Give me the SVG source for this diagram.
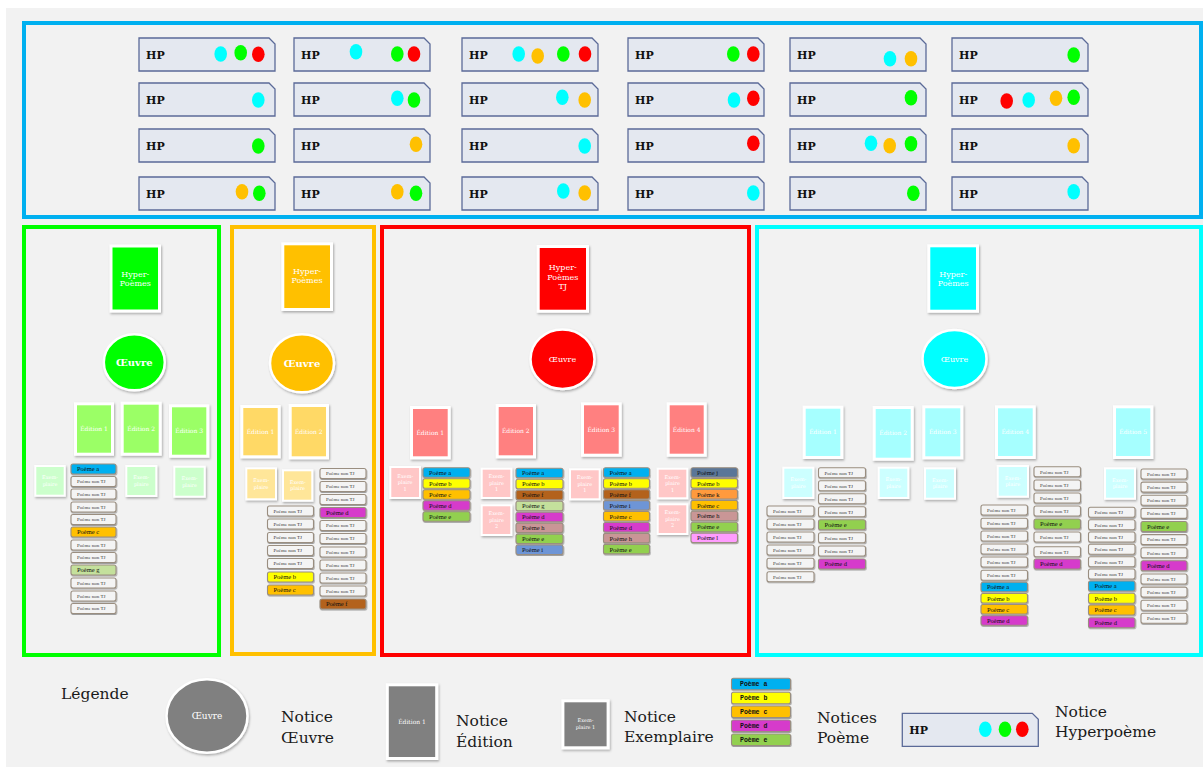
<svg xmlns="http://www.w3.org/2000/svg" width="1203" height="767" viewBox="0 0 1203 767">
<defs>
<filter id="sh" x="-20%" y="-20%" width="150%" height="150%"><feDropShadow dx="1" dy="1.5" stdDeviation="1.2" flood-color="#000" flood-opacity="0.3"/></filter>
<filter id="sh2" x="-10%" y="-30%" width="120%" height="170%"><feDropShadow dx="0.6" dy="1" stdDeviation="0.6" flood-color="#000" flood-opacity="0.35"/></filter>
</defs>
<style>
.hpbox{fill:#e4e8f0;stroke:#5b6a98;stroke-width:1.3}
.hpt{font-family:"DejaVu Serif",serif;font-weight:bold;font-size:11px;fill:#111}
.cy{fill:#00ffff}.gr{fill:#00ff00}.rd{fill:#ff0000}.or{fill:#ffc000}
.card{stroke:#fff;stroke-width:3;filter:url(#sh)}
.ex{stroke:#fff;stroke-width:2;filter:url(#sh)}
.ov{stroke:#fff;stroke-width:2.5;filter:url(#sh)}
.ht{font-family:"DejaVu Serif",serif;font-size:8px;fill:#fff;text-anchor:middle}
.et{font-family:"DejaVu Serif",serif;font-size:6px;fill:#fff;text-anchor:middle}
.xt{font-family:"DejaVu Serif",serif;font-size:5px;fill:#fff;text-anchor:middle}
.ot{font-family:"DejaVu Serif",serif;fill:#fff;text-anchor:middle}
.p{stroke:#9a8e80;stroke-width:1.1;filter:url(#sh2)}
.pa{fill:#00b0f0}.pb{fill:#ffff00}.pc{fill:#ffc000}.pd{fill:#d63bcb}.pe{fill:#92d050}.pf{fill:#b3621e}.pg{fill:#c4e09c}.ph{fill:#c99696}.pi{fill:#6e95d6}.pj{fill:#5a7698}.pk{fill:#ff9a3d}.pl{fill:#ff9cff}.pn{fill:#f4f4f4}
.pt{font-family:"Liberation Serif",serif;font-size:6.5px;fill:#111}
.nt{font-family:"Liberation Serif",serif;font-size:5px;fill:#333}
.lt{font-family:"Liberation Mono",monospace;font-weight:bold;font-size:6.5px;fill:#111}
.lg{font-family:"DejaVu Serif",serif;font-size:15.5px;fill:#1a1a1a}
</style>
<rect x="0" y="0" width="1203" height="767" fill="#ffffff"/>
<rect x="6" y="8" width="1197" height="759" fill="#f2f2f2"/>

<!-- panels -->
<rect id="panel-hp" x="24" y="23" width="1177" height="194" fill="none" stroke="#00b0f0" stroke-width="4"/>
<rect id="panel-green" x="24" y="227" width="195" height="428" fill="none" stroke="#00ff00" stroke-width="4"/>
<rect id="panel-orange" x="232" y="227" width="142" height="427" fill="none" stroke="#ffc000" stroke-width="4"/>
<rect id="panel-red" x="382" y="227" width="367" height="428" fill="none" stroke="#ff0000" stroke-width="4"/>
<rect id="panel-cyan" x="757" y="227" width="444" height="428" fill="none" stroke="#00ffff" stroke-width="4"/>

<g id="connectors"></g>

<!-- HP row 1 -->
<g id="hp-1-1" transform="translate(139,38)"><path class="hpbox" d="M0,0H130L136,6V33H0Z"/><text class="hpt" x="7" y="21">HP</text><ellipse class="cy" cx="81.7" cy="16" rx="6.3" ry="7.7"/><ellipse class="gr" cx="101.7" cy="14.7" rx="6.3" ry="7.7"/><ellipse class="rd" cx="119.3" cy="16.3" rx="6.3" ry="7.7"/></g>
<g id="hp-1-2" transform="translate(294,38)"><path class="hpbox" d="M0,0H130L136,6V33H0Z"/><text class="hpt" x="7" y="21">HP</text><ellipse class="cy" cx="62" cy="13.7" rx="6.3" ry="7.7"/><ellipse class="gr" cx="103.3" cy="16" rx="6.3" ry="7.7"/><ellipse class="rd" cx="120" cy="16" rx="6.3" ry="7.7"/></g>
<g id="hp-1-3" transform="translate(462,38)"><path class="hpbox" d="M0,0H130L136,6V33H0Z"/><text class="hpt" x="7" y="21">HP</text><ellipse class="cy" cx="56.7" cy="16" rx="6.3" ry="7.7"/><ellipse class="or" cx="75.7" cy="18" rx="6.3" ry="7.7"/><ellipse class="gr" cx="101.3" cy="16" rx="6.3" ry="7.7"/><ellipse class="rd" cx="123" cy="16" rx="6.3" ry="7.7"/></g>
<g id="hp-1-4" transform="translate(628,38)"><path class="hpbox" d="M0,0H130L136,6V33H0Z"/><text class="hpt" x="7" y="21">HP</text><ellipse class="gr" cx="105.3" cy="16" rx="6.3" ry="7.7"/><ellipse class="rd" cx="125.3" cy="16" rx="6.3" ry="7.7"/></g>
<g id="hp-1-5" transform="translate(790,38)"><path class="hpbox" d="M0,0H130L136,6V33H0Z"/><text class="hpt" x="7" y="21">HP</text><ellipse class="cy" cx="100" cy="20.7" rx="6.3" ry="7.7"/><ellipse class="or" cx="121" cy="20.7" rx="6.3" ry="7.7"/></g>
<g id="hp-1-6" transform="translate(952,38)"><path class="hpbox" d="M0,0H130L136,6V33H0Z"/><text class="hpt" x="7" y="21">HP</text><ellipse class="gr" cx="121.7" cy="17" rx="6.3" ry="7.7"/></g>
<!-- HP row 2 -->
<g id="hp-2-1" transform="translate(139,83)"><path class="hpbox" d="M0,0H130L136,6V33H0Z"/><text class="hpt" x="7" y="21">HP</text><ellipse class="cy" cx="119.3" cy="17" rx="6.3" ry="7.7"/></g>
<g id="hp-2-2" transform="translate(294,83)"><path class="hpbox" d="M0,0H130L136,6V33H0Z"/><text class="hpt" x="7" y="21">HP</text><ellipse class="cy" cx="103.3" cy="15.3" rx="6.3" ry="7.7"/><ellipse class="gr" cx="120" cy="17" rx="6.3" ry="7.7"/></g>
<g id="hp-2-3" transform="translate(462,83)"><path class="hpbox" d="M0,0H130L136,6V33H0Z"/><text class="hpt" x="7" y="21">HP</text><ellipse class="cy" cx="100.3" cy="14.3" rx="6.3" ry="7.7"/><ellipse class="or" cx="122.7" cy="17" rx="6.3" ry="7.7"/></g>
<g id="hp-2-4" transform="translate(628,83)"><path class="hpbox" d="M0,0H130L136,6V33H0Z"/><text class="hpt" x="7" y="21">HP</text><ellipse class="cy" cx="106" cy="17" rx="6.3" ry="7.7"/><ellipse class="rd" cx="125.3" cy="15.3" rx="6.3" ry="7.7"/></g>
<g id="hp-2-5" transform="translate(790,83)"><path class="hpbox" d="M0,0H130L136,6V33H0Z"/><text class="hpt" x="7" y="21">HP</text><ellipse class="gr" cx="121" cy="14.7" rx="6.3" ry="7.7"/></g>
<g id="hp-2-6" transform="translate(952,83)"><path class="hpbox" d="M0,0H130L136,6V33H0Z"/><text class="hpt" x="7" y="21">HP</text><ellipse class="rd" cx="54.7" cy="18" rx="6.3" ry="7.7"/><ellipse class="cy" cx="76.7" cy="17" rx="6.3" ry="7.7"/><ellipse class="or" cx="104" cy="15.3" rx="6.3" ry="7.7"/><ellipse class="gr" cx="121.7" cy="14.3" rx="6.3" ry="7.7"/></g>
<!-- HP row 3 -->
<g id="hp-3-1" transform="translate(139,129)"><path class="hpbox" d="M0,0H130L136,6V33H0Z"/><text class="hpt" x="7" y="21">HP</text><ellipse class="gr" cx="119.3" cy="17" rx="6.3" ry="7.7"/></g>
<g id="hp-3-2" transform="translate(294,129)"><path class="hpbox" d="M0,0H130L136,6V33H0Z"/><text class="hpt" x="7" y="21">HP</text><ellipse class="or" cx="122" cy="15.3" rx="6.3" ry="7.7"/></g>
<g id="hp-3-3" transform="translate(462,129)"><path class="hpbox" d="M0,0H130L136,6V33H0Z"/><text class="hpt" x="7" y="21">HP</text><ellipse class="cy" cx="122.7" cy="17" rx="6.3" ry="7.7"/></g>
<g id="hp-3-4" transform="translate(628,129)"><path class="hpbox" d="M0,0H130L136,6V33H0Z"/><text class="hpt" x="7" y="21">HP</text><ellipse class="rd" cx="125.3" cy="14.3" rx="6.3" ry="7.7"/></g>
<g id="hp-3-5" transform="translate(790,129)"><path class="hpbox" d="M0,0H130L136,6V33H0Z"/><text class="hpt" x="7" y="21">HP</text><ellipse class="cy" cx="81" cy="14.3" rx="6.3" ry="7.7"/><ellipse class="or" cx="99.7" cy="16.7" rx="6.3" ry="7.7"/><ellipse class="gr" cx="121" cy="14.7" rx="6.3" ry="7.7"/></g>
<g id="hp-3-6" transform="translate(952,129)"><path class="hpbox" d="M0,0H130L136,6V33H0Z"/><text class="hpt" x="7" y="21">HP</text><ellipse class="or" cx="121.7" cy="16.7" rx="6.3" ry="7.7"/></g>
<!-- HP row 4 -->
<g id="hp-4-1" transform="translate(139,177)"><path class="hpbox" d="M0,0H130L136,6V33H0Z"/><text class="hpt" x="7" y="21">HP</text><ellipse class="or" cx="103" cy="14.7" rx="6.3" ry="7.7"/><ellipse class="gr" cx="120.3" cy="16.3" rx="6.3" ry="7.7"/></g>
<g id="hp-4-2" transform="translate(294,177)"><path class="hpbox" d="M0,0H130L136,6V33H0Z"/><text class="hpt" x="7" y="21">HP</text><ellipse class="or" cx="103.3" cy="14.7" rx="6.3" ry="7.7"/><ellipse class="gr" cx="122" cy="16.3" rx="6.3" ry="7.7"/></g>
<g id="hp-4-3" transform="translate(462,177)"><path class="hpbox" d="M0,0H130L136,6V33H0Z"/><text class="hpt" x="7" y="21">HP</text><ellipse class="cy" cx="101.3" cy="14" rx="6.3" ry="7.7"/><ellipse class="or" cx="122.7" cy="16" rx="6.3" ry="7.7"/></g>
<g id="hp-4-4" transform="translate(628,177)"><path class="hpbox" d="M0,0H130L136,6V33H0Z"/><text class="hpt" x="7" y="21">HP</text><ellipse class="cy" cx="125.3" cy="16" rx="6.3" ry="7.7"/></g>
<g id="hp-4-5" transform="translate(790,177)"><path class="hpbox" d="M0,0H130L136,6V33H0Z"/><text class="hpt" x="7" y="21">HP</text><ellipse class="gr" cx="123.3" cy="16.3" rx="6.3" ry="7.7"/></g>
<g id="hp-4-6" transform="translate(952,177)"><path class="hpbox" d="M0,0H130L136,6V33H0Z"/><text class="hpt" x="7" y="21">HP</text><ellipse class="cy" cx="121.7" cy="14.7" rx="6.3" ry="7.7"/></g>

<!-- GREEN -->
<g id="g-hyper"><rect class="card" x="111" y="246" width="48.5" height="65" fill="#00ff00"/><text class="ht" x="135.3" y="277">Hyper-</text><text class="ht" x="135.3" y="285.5">Poèmes</text></g>
<g id="g-oeuvre"><ellipse class="ov" cx="134.3" cy="362.3" rx="30.5" ry="28" fill="#00ff00"/><text class="ot" x="134.3" y="366" font-size="10" font-weight="bold">Œuvre</text></g>
<g id="g-ed1"><rect class="card" x="75.5" y="403.8" width="37" height="50.4" fill="#9bff66"/><text class="et" x="94" y="431">Édition 1</text></g>
<g id="g-ed2"><rect class="card" x="122.2" y="403.2" width="38" height="51" fill="#9bff66"/><text class="et" x="141.2" y="430.5">Édition 2</text></g>
<g id="g-ed3"><rect class="card" x="170.5" y="405.8" width="37.3" height="50.4" fill="#9bff66"/><text class="et" x="189.2" y="433">Édition 3</text></g>
<g id="g-ex1"><rect class="ex" x="35.3" y="466" width="29.4" height="29.7" fill="#ccffcc"/><text class="xt" x="50" y="479">Exem-</text><text class="xt" x="50" y="485.5">plaire</text></g>
<g id="g-ex2"><rect class="ex" x="126.3" y="466" width="30" height="30" fill="#ccffcc"/><text class="xt" x="141.3" y="479">Exem-</text><text class="xt" x="141.3" y="485.5">plaire</text></g>
<g id="g-ex3"><rect class="ex" x="174.3" y="466.7" width="30.4" height="30" fill="#ccffcc"/><text class="xt" x="189.5" y="480">Exem-</text><text class="xt" x="189.5" y="486.5">plaire</text></g>
<g id="g-list">
<rect class="p pa" x="71" y="464" width="45" height="10" rx="2"/><text class="pt" x="77" y="471.3">Poème a</text>
<rect class="p pn" x="71" y="476.5" width="45" height="10" rx="2"/><text class="nt" x="77" y="483.3">Poème non TJ</text>
<rect class="p pn" x="71" y="489" width="45" height="10" rx="2"/><text class="nt" x="77" y="495.8">Poème non TJ</text>
<rect class="p pn" x="71" y="502" width="45" height="10" rx="2"/><text class="nt" x="77" y="508.8">Poème non TJ</text>
<rect class="p pn" x="71" y="514.5" width="45" height="10" rx="2"/><text class="nt" x="77" y="521.3">Poème non TJ</text>
<rect class="p pc" x="71" y="527" width="45" height="10" rx="2"/><text class="pt" x="77" y="534.3">Poème c</text>
<rect class="p pn" x="71" y="540" width="45" height="10" rx="2"/><text class="nt" x="77" y="546.8">Poème non TJ</text>
<rect class="p pn" x="71" y="552.5" width="45" height="10" rx="2"/><text class="nt" x="77" y="559.3">Poème non TJ</text>
<rect class="p pg" x="71" y="565" width="45" height="10" rx="2"/><text class="pt" x="77" y="572.3">Poème g</text>
<rect class="p pn" x="71" y="578" width="45" height="10" rx="2"/><text class="nt" x="77" y="584.8">Poème non TJ</text>
<rect class="p pn" x="71" y="591" width="45" height="10" rx="2"/><text class="nt" x="77" y="597.8">Poème non TJ</text>
<rect class="p pn" x="71" y="603.5" width="45" height="10" rx="2"/><text class="nt" x="77" y="610.3">Poème non TJ</text>
</g>

<!-- ORANGE -->
<g id="o-hyper"><rect class="card" x="282.8" y="243.8" width="48.7" height="65.7" fill="#ffc000"/><text class="ht" x="307" y="274">Hyper-</text><text class="ht" x="307" y="282.5">Poèmes</text></g>
<g id="o-oeuvre"><ellipse class="ov" cx="302" cy="363.3" rx="32" ry="29" fill="#ffc000"/><text class="ot" x="302" y="367" font-size="10" font-weight="bold">Œuvre</text></g>
<g id="o-ed1"><rect class="card" x="241.8" y="406.5" width="37.4" height="50.3" fill="#ffd966"/><text class="et" x="260.5" y="434">Édition 1</text></g>
<g id="o-ed2"><rect class="card" x="290.2" y="405.5" width="37.3" height="52.3" fill="#ffd966"/><text class="et" x="308.8" y="434">Édition 2</text></g>
<g id="o-ex1"><rect class="ex" x="246.3" y="468.3" width="29.7" height="31" fill="#ffe699"/><text class="xt" x="261.2" y="482">Exem-</text><text class="xt" x="261.2" y="488.5">plaire</text></g>
<g id="o-ex2"><rect class="ex" x="283" y="470.3" width="29.3" height="30.4" fill="#ffe699"/><text class="xt" x="297.7" y="483.5">Exem-</text><text class="xt" x="297.7" y="490">plaire</text></g>
<g id="o-list-r">
<rect class="p pn" x="320" y="468.5" width="46" height="10" rx="2"/><text class="nt" x="326" y="475.3">Poème non TJ</text>
<rect class="p pn" x="320" y="481.5" width="46" height="10" rx="2"/><text class="nt" x="326" y="488.3">Poème non TJ</text>
<rect class="p pn" x="320" y="494.5" width="46" height="10" rx="2"/><text class="nt" x="326" y="501.3">Poème non TJ</text>
<rect class="p pd" x="320" y="507.5" width="46" height="10" rx="2"/><text class="pt" x="326" y="514.8">Poème d</text>
<rect class="p pn" x="320" y="520.5" width="46" height="10" rx="2"/><text class="nt" x="326" y="527.3">Poème non TJ</text>
<rect class="p pn" x="320" y="533.5" width="46" height="10" rx="2"/><text class="nt" x="326" y="540.3">Poème non TJ</text>
<rect class="p pn" x="320" y="547" width="46" height="10" rx="2"/><text class="nt" x="326" y="553.8">Poème non TJ</text>
<rect class="p pn" x="320" y="560" width="46" height="10" rx="2"/><text class="nt" x="326" y="566.8">Poème non TJ</text>
<rect class="p pn" x="320" y="573" width="46" height="10" rx="2"/><text class="nt" x="326" y="579.8">Poème non TJ</text>
<rect class="p pn" x="320" y="586" width="46" height="10" rx="2"/><text class="nt" x="326" y="592.8">Poème non TJ</text>
<rect class="p pf" x="320" y="599" width="46" height="10" rx="2"/><text class="pt" x="326" y="606.3">Poème f</text>
</g>
<g id="o-list-l">
<rect class="p pn" x="267.5" y="506" width="46" height="10" rx="2"/><text class="nt" x="273.5" y="512.8">Poème non TJ</text>
<rect class="p pn" x="267.5" y="519" width="46" height="10" rx="2"/><text class="nt" x="273.5" y="525.8">Poème non TJ</text>
<rect class="p pn" x="267.5" y="532.5" width="46" height="10" rx="2"/><text class="nt" x="273.5" y="539.3">Poème non TJ</text>
<rect class="p pn" x="267.5" y="545.5" width="46" height="10" rx="2"/><text class="nt" x="273.5" y="552.3">Poème non TJ</text>
<rect class="p pn" x="267.5" y="558.5" width="46" height="10" rx="2"/><text class="nt" x="273.5" y="565.3">Poème non TJ</text>
<rect class="p pb" x="267.5" y="572" width="46" height="10" rx="2"/><text class="pt" x="273.5" y="579.3">Poème b</text>
<rect class="p pc" x="267.5" y="585" width="46" height="10" rx="2"/><text class="pt" x="273.5" y="592.3">Poème c</text>
</g>

<!-- RED -->
<g id="r-hyper"><rect class="card" x="538.2" y="246.5" width="49.3" height="64.7" fill="#ff0000"/><text class="ht" x="562.8" y="270">Hyper-</text><text class="ht" x="562.8" y="279.5">Poèmes</text><text class="ht" x="562.8" y="289">TJ</text></g>
<g id="r-oeuvre"><ellipse class="ov" cx="562.5" cy="359.2" rx="32" ry="29.8" fill="#ff0000"/><text class="ot" x="562.5" y="362" font-size="8">Œuvre</text></g>
<g id="r-ed1"><rect class="card" x="411.5" y="407.5" width="37.7" height="50.3" fill="#ff8080"/><text class="et" x="430.3" y="434.7">Édition 1</text></g>
<g id="r-ed2"><rect class="card" x="497.2" y="405.5" width="37.3" height="51.3" fill="#ff8080"/><text class="et" x="515.8" y="433.2">Édition 2</text></g>
<g id="r-ed3"><rect class="card" x="582.5" y="403.8" width="37.7" height="51.4" fill="#ff8080"/><text class="et" x="601.3" y="431.5">Édition 3</text></g>
<g id="r-ed4"><rect class="card" x="668.2" y="403.8" width="37" height="51.4" fill="#ff8080"/><text class="et" x="686.7" y="431.5">Édition 4</text></g>
<g id="r-ed1-ex1"><rect class="ex" x="390.3" y="467" width="29.7" height="31" fill="#ffc7c7"/><text class="xt" x="405.2" y="477.5">Exem-</text><text class="xt" x="405.2" y="484">plaire</text><text class="xt" x="405.2" y="490.5">1</text></g>
<g id="r-ed2-ex1"><rect class="ex" x="481.7" y="468.7" width="29.6" height="29.3" fill="#ffc7c7"/><text class="xt" x="496.5" y="478.3">Exem-</text><text class="xt" x="496.5" y="484.8">plaire</text><text class="xt" x="496.5" y="491.3">1</text></g>
<g id="r-ed2-ex2"><rect class="ex" x="481.7" y="505.3" width="29.6" height="29.7" fill="#ffc7c7"/><text class="xt" x="496.5" y="515.2">Exem-</text><text class="xt" x="496.5" y="521.7">plaire</text><text class="xt" x="496.5" y="528.2">2</text></g>
<g id="r-ed3-ex1"><rect class="ex" x="570" y="469.3" width="29.7" height="30" fill="#ffc7c7"/><text class="xt" x="584.8" y="479.3">Exem-</text><text class="xt" x="584.8" y="485.8">plaire</text><text class="xt" x="584.8" y="492.3">1</text></g>
<g id="r-ed4-ex1"><rect class="ex" x="657.7" y="468.7" width="29.6" height="29.6" fill="#ffc7c7"/><text class="xt" x="672.5" y="478.5">Exem-</text><text class="xt" x="672.5" y="485">plaire</text><text class="xt" x="672.5" y="491.5">1</text></g>
<g id="r-ed4-ex2"><rect class="ex" x="657.7" y="504.3" width="29.6" height="29.7" fill="#ffc7c7"/><text class="xt" x="672.5" y="514.2">Exem-</text><text class="xt" x="672.5" y="520.7">plaire</text><text class="xt" x="672.5" y="527.2">2</text></g>
<g id="r-list1">
<rect class="p pa" x="423" y="467.7" width="47" height="9.5" rx="2"/><text class="pt" x="429" y="474.8">Poème a</text>
<rect class="p pb" x="423" y="478.7" width="47" height="9.5" rx="2"/><text class="pt" x="429" y="485.8">Poème b</text>
<rect class="p pc" x="423" y="489.7" width="47" height="9.5" rx="2"/><text class="pt" x="429" y="496.8">Poème c</text>
<rect class="p pd" x="423" y="500.7" width="47" height="9.5" rx="2"/><text class="pt" x="429" y="507.8">Poème d</text>
<rect class="p pe" x="423" y="511.7" width="47" height="9.5" rx="2"/><text class="pt" x="429" y="518.8">Poème e</text>
</g>
<g id="r-list2">
<rect class="p pa" x="516" y="468.3" width="47" height="9.5" rx="2"/><text class="pt" x="522" y="475.4">Poème a</text>
<rect class="p pb" x="516" y="479.3" width="47" height="9.5" rx="2"/><text class="pt" x="522" y="486.4">Poème b</text>
<rect class="p pf" x="516" y="490.2" width="47" height="9.5" rx="2"/><text class="pt" x="522" y="497.3">Poème f</text>
<rect class="p pg" x="516" y="501.2" width="47" height="9.5" rx="2"/><text class="pt" x="522" y="508.3">Poème g</text>
<rect class="p pd" x="516" y="512.2" width="47" height="9.5" rx="2"/><text class="pt" x="522" y="519.3">Poème d</text>
<rect class="p ph" x="516" y="523.1" width="47" height="9.5" rx="2"/><text class="pt" x="522" y="530.2">Poème h</text>
<rect class="p pe" x="516" y="534.1" width="47" height="9.5" rx="2"/><text class="pt" x="522" y="541.2">Poème e</text>
<rect class="p pi" x="516" y="545" width="47" height="9.5" rx="2"/><text class="pt" x="522" y="552.1">Poème i</text>
</g>
<g id="r-list3">
<rect class="p pa" x="603.5" y="467.7" width="46" height="9.5" rx="2"/><text class="pt" x="609.5" y="474.8">Poème a</text>
<rect class="p pb" x="603.5" y="478.7" width="46" height="9.5" rx="2"/><text class="pt" x="609.5" y="485.8">Poème b</text>
<rect class="p pf" x="603.5" y="489.6" width="46" height="9.5" rx="2"/><text class="pt" x="609.5" y="496.7">Poème f</text>
<rect class="p pi" x="603.5" y="500.6" width="46" height="9.5" rx="2"/><text class="pt" x="609.5" y="507.7">Poème i</text>
<rect class="p pc" x="603.5" y="511.5" width="46" height="9.5" rx="2"/><text class="pt" x="609.5" y="518.6">Poème c</text>
<rect class="p pd" x="603.5" y="522.5" width="46" height="9.5" rx="2"/><text class="pt" x="609.5" y="529.6">Poème d</text>
<rect class="p ph" x="603.5" y="533.4" width="46" height="9.5" rx="2"/><text class="pt" x="609.5" y="540.5">Poème h</text>
<rect class="p pe" x="603.5" y="544.4" width="46" height="9.5" rx="2"/><text class="pt" x="609.5" y="551.5">Poème e</text>
</g>
<g id="r-list4">
<rect class="p pj" x="691" y="467.7" width="46.5" height="9.5" rx="2"/><text class="pt" x="697" y="474.8">Poème j</text>
<rect class="p pb" x="691" y="478.6" width="46.5" height="9.5" rx="2"/><text class="pt" x="697" y="485.7">Poème b</text>
<rect class="p pk" x="691" y="489.5" width="46.5" height="9.5" rx="2"/><text class="pt" x="697" y="496.6">Poème k</text>
<rect class="p pc" x="691" y="500.4" width="46.5" height="9.5" rx="2"/><text class="pt" x="697" y="507.5">Poème c</text>
<rect class="p ph" x="691" y="511.3" width="46.5" height="9.5" rx="2"/><text class="pt" x="697" y="518.4">Poème h</text>
<rect class="p pe" x="691" y="522.2" width="46.5" height="9.5" rx="2"/><text class="pt" x="697" y="529.3">Poème e</text>
<rect class="p pl" x="691" y="533.1" width="46.5" height="9.5" rx="2"/><text class="pt" x="697" y="540.2">Poème l</text>
</g>

<!-- CYAN -->
<g id="c-hyper"><rect class="card" x="928.8" y="245.8" width="48.7" height="65.4" fill="#00ffff"/><text class="ht" x="953.2" y="277">Hyper-</text><text class="ht" x="953.2" y="285.5">Poèmes</text></g>
<g id="c-oeuvre"><ellipse class="ov" cx="954.5" cy="359" rx="32" ry="29" fill="#00ffff"/><text class="ot" x="954.5" y="362" font-size="8">Œuvre</text></g>
<g id="c-ed1"><rect class="card" x="804.2" y="407.2" width="37.6" height="50.3" fill="#a6ffff"/><text class="et" x="823" y="434.3">Édition 1</text></g>
<g id="c-ed2"><rect class="card" x="874.2" y="407.5" width="38" height="51.7" fill="#a6ffff"/><text class="et" x="893.2" y="435.3">Édition 2</text></g>
<g id="c-ed3"><rect class="card" x="923.8" y="406.8" width="38" height="51" fill="#a6ffff"/><text class="et" x="942.8" y="434.3">Édition 3</text></g>
<g id="c-ed4"><rect class="card" x="996.5" y="406.8" width="37.7" height="50.7" fill="#a6ffff"/><text class="et" x="1015.3" y="434.2">Édition 4</text></g>
<g id="c-ed5"><rect class="card" x="1114.5" y="406.8" width="37.3" height="50.7" fill="#a6ffff"/><text class="et" x="1133.2" y="434.2">Édition 5</text></g>
<g id="c-ex1"><rect class="ex" x="783.3" y="467.7" width="30" height="30.3" fill="#ccffff"/><text class="xt" x="798.3" y="481">Exem-</text><text class="xt" x="798.3" y="487.5">plaire</text></g>
<g id="c-ex2"><rect class="ex" x="878.7" y="467.7" width="29.6" height="30.3" fill="#ccffff"/><text class="xt" x="893.5" y="481">Exem-</text><text class="xt" x="893.5" y="487.5">plaire</text></g>
<g id="c-ex3"><rect class="ex" x="925" y="468.3" width="30" height="30.4" fill="#ccffff"/><text class="xt" x="940" y="481.7">Exem-</text><text class="xt" x="940" y="488.2">plaire</text></g>
<g id="c-ex4"><rect class="ex" x="997.7" y="466" width="30.3" height="30.7" fill="#ccffff"/><text class="xt" x="1012.8" y="479.5">Exem-</text><text class="xt" x="1012.8" y="486">plaire</text></g>
<g id="c-ex5"><rect class="ex" x="1105" y="468.3" width="30" height="30.4" fill="#ccffff"/><text class="xt" x="1120" y="481.7">Exem-</text><text class="xt" x="1120" y="488.2">plaire</text></g>
<g id="c-list1r">
<rect class="p pn" x="818.5" y="467.7" width="47" height="10" rx="2"/><text class="nt" x="824.5" y="474.5">Poème non TJ</text>
<rect class="p pn" x="818.5" y="480.7" width="47" height="10" rx="2"/><text class="nt" x="824.5" y="487.5">Poème non TJ</text>
<rect class="p pn" x="818.5" y="493.7" width="47" height="10" rx="2"/><text class="nt" x="824.5" y="500.5">Poème non TJ</text>
<rect class="p pn" x="818.5" y="506.7" width="47" height="10" rx="2"/><text class="nt" x="824.5" y="513.5">Poème non TJ</text>
<rect class="p pe" x="818.5" y="519.7" width="47" height="10" rx="2"/><text class="pt" x="824.5" y="527">Poème e</text>
<rect class="p pn" x="818.5" y="532.7" width="47" height="10" rx="2"/><text class="nt" x="824.5" y="539.5">Poème non TJ</text>
<rect class="p pn" x="818.5" y="546" width="47" height="10" rx="2"/><text class="nt" x="824.5" y="552.8">Poème non TJ</text>
<rect class="p pd" x="818.5" y="559" width="47" height="10" rx="2"/><text class="pt" x="824.5" y="566.3">Poème d</text>
</g>
<g id="c-list1l">
<rect class="p pn" x="767" y="506" width="47" height="10" rx="2"/><text class="nt" x="773" y="512.8">Poème non TJ</text>
<rect class="p pn" x="767" y="519" width="47" height="10" rx="2"/><text class="nt" x="773" y="525.8">Poème non TJ</text>
<rect class="p pn" x="767" y="532" width="47" height="10" rx="2"/><text class="nt" x="773" y="538.8">Poème non TJ</text>
<rect class="p pn" x="767" y="545" width="47" height="10" rx="2"/><text class="nt" x="773" y="551.8">Poème non TJ</text>
<rect class="p pn" x="767" y="558.3" width="47" height="10" rx="2"/><text class="nt" x="773" y="565.1">Poème non TJ</text>
<rect class="p pn" x="767" y="571.7" width="47" height="10" rx="2"/><text class="nt" x="773" y="578.5">Poème non TJ</text>
</g>
<g id="c-list4r">
<rect class="p pn" x="1034" y="466.7" width="46.5" height="10" rx="2"/><text class="nt" x="1040" y="473.5">Poème non TJ</text>
<rect class="p pn" x="1034" y="480" width="46.5" height="10" rx="2"/><text class="nt" x="1040" y="486.8">Poème non TJ</text>
<rect class="p pn" x="1034" y="493" width="46.5" height="10" rx="2"/><text class="nt" x="1040" y="499.8">Poème non TJ</text>
<rect class="p pn" x="1034" y="506" width="46.5" height="10" rx="2"/><text class="nt" x="1040" y="512.8">Poème non TJ</text>
<rect class="p pe" x="1034" y="519" width="46.5" height="10" rx="2"/><text class="pt" x="1040" y="526.3">Poème e</text>
<rect class="p pn" x="1034" y="532" width="46.5" height="10" rx="2"/><text class="nt" x="1040" y="538.8">Poème non TJ</text>
<rect class="p pn" x="1034" y="546.7" width="46.5" height="10" rx="2"/><text class="nt" x="1040" y="553.5">Poème non TJ</text>
<rect class="p pd" x="1034" y="559" width="46.5" height="10" rx="2"/><text class="pt" x="1040" y="566.3">Poème d</text>
</g>
<g id="c-list4l">
<rect class="p pn" x="981" y="505" width="46.5" height="10" rx="2"/><text class="nt" x="987" y="511.8">Poème non TJ</text>
<rect class="p pn" x="981" y="518.3" width="46.5" height="10" rx="2"/><text class="nt" x="987" y="525.1">Poème non TJ</text>
<rect class="p pn" x="981" y="531" width="46.5" height="10" rx="2"/><text class="nt" x="987" y="537.8">Poème non TJ</text>
<rect class="p pn" x="981" y="544" width="46.5" height="10" rx="2"/><text class="nt" x="987" y="550.8">Poème non TJ</text>
<rect class="p pn" x="981" y="557" width="46.5" height="10" rx="2"/><text class="nt" x="987" y="563.8">Poème non TJ</text>
<rect class="p pn" x="981" y="570.3" width="46.5" height="10" rx="2"/><text class="nt" x="987" y="577.1">Poème non TJ</text>
<rect class="p pa" x="981" y="582.3" width="46.5" height="9.5" rx="2"/><text class="pt" x="987" y="589.4">Poème a</text>
<rect class="p pb" x="981" y="593.5" width="46.5" height="9.5" rx="2"/><text class="pt" x="987" y="600.6">Poème b</text>
<rect class="p pc" x="981" y="604.5" width="46.5" height="9.5" rx="2"/><text class="pt" x="987" y="611.6">Poème c</text>
<rect class="p pd" x="981" y="615.7" width="46.5" height="9.5" rx="2"/><text class="pt" x="987" y="622.8">Poème d</text>
</g>
<g id="c-list5l">
<rect class="p pn" x="1088.5" y="507.3" width="46.5" height="10" rx="2"/><text class="nt" x="1094.5" y="514.1">Poème non TJ</text>
<rect class="p pn" x="1088.5" y="519.7" width="46.5" height="10" rx="2"/><text class="nt" x="1094.5" y="526.5">Poème non TJ</text>
<rect class="p pn" x="1088.5" y="532" width="46.5" height="10" rx="2"/><text class="nt" x="1094.5" y="538.8">Poème non TJ</text>
<rect class="p pn" x="1088.5" y="544.3" width="46.5" height="10" rx="2"/><text class="nt" x="1094.5" y="551.1">Poème non TJ</text>
<rect class="p pn" x="1088.5" y="556.7" width="46.5" height="10" rx="2"/><text class="nt" x="1094.5" y="563.5">Poème non TJ</text>
<rect class="p pn" x="1088.5" y="569" width="46.5" height="10" rx="2"/><text class="nt" x="1094.5" y="575.8">Poème non TJ</text>
<rect class="p pa" x="1088.5" y="581" width="46.5" height="10" rx="2"/><text class="pt" x="1094.5" y="588.3">Poème a</text>
<rect class="p pb" x="1088.5" y="593.3" width="46.5" height="10" rx="2"/><text class="pt" x="1094.5" y="600.6">Poème b</text>
<rect class="p pc" x="1088.5" y="605" width="46.5" height="10" rx="2"/><text class="pt" x="1094.5" y="612.3">Poème c</text>
<rect class="p pd" x="1088.5" y="617.7" width="46.5" height="10" rx="2"/><text class="pt" x="1094.5" y="625">Poème d</text>
</g>
<g id="c-list5r">
<rect class="p pn" x="1141" y="469" width="46" height="10" rx="2"/><text class="nt" x="1147" y="475.8">Poème non TJ</text>
<rect class="p pn" x="1141" y="482.1" width="46" height="10" rx="2"/><text class="nt" x="1147" y="488.9">Poème non TJ</text>
<rect class="p pn" x="1141" y="495.2" width="46" height="10" rx="2"/><text class="nt" x="1147" y="502">Poème non TJ</text>
<rect class="p pn" x="1141" y="508.4" width="46" height="10" rx="2"/><text class="nt" x="1147" y="515.2">Poème non TJ</text>
<rect class="p pe" x="1141" y="521.5" width="46" height="10" rx="2"/><text class="pt" x="1147" y="528.8">Poème e</text>
<rect class="p pn" x="1141" y="534.6" width="46" height="10" rx="2"/><text class="nt" x="1147" y="541.4">Poème non TJ</text>
<rect class="p pn" x="1141" y="547.7" width="46" height="10" rx="2"/><text class="nt" x="1147" y="554.5">Poème non TJ</text>
<rect class="p pd" x="1141" y="560.8" width="46" height="10" rx="2"/><text class="pt" x="1147" y="568.1">Poème d</text>
<rect class="p pn" x="1141" y="574" width="46" height="10" rx="2"/><text class="nt" x="1147" y="580.8">Poème non TJ</text>
<rect class="p pn" x="1141" y="587.1" width="46" height="10" rx="2"/><text class="nt" x="1147" y="593.9">Poème non TJ</text>
<rect class="p pn" x="1141" y="600.2" width="46" height="10" rx="2"/><text class="nt" x="1147" y="607">Poème non TJ</text>
<rect class="p pn" x="1141" y="613.3" width="46" height="10" rx="2"/><text class="nt" x="1147" y="620.1">Poème non TJ</text>
</g>

<!-- LEGEND -->
<g id="legend-title"><text class="lg" x="61" y="699">Légende</text></g>
<g id="legend-oeuvre"><ellipse class="ov" cx="207" cy="716" rx="40.5" ry="36.8" fill="#808080"/><text class="ot" x="207" y="719" font-size="9">Œuvre</text></g>
<g id="legend-oeuvre-label"><text class="lg" x="281" y="722">Notice</text><text class="lg" x="281" y="743">Œuvre</text></g>
<g id="legend-edition"><rect class="card" x="387.3" y="684.8" width="49.4" height="73.7" fill="#808080"/><text class="et" x="412" y="724" font-size="7">Édition 1</text></g>
<g id="legend-edition-label"><text class="lg" x="456" y="726">Notice</text><text class="lg" x="456" y="747">Édition</text></g>
<g id="legend-exemplaire"><rect class="card" x="562.9" y="700.8" width="45.2" height="47" fill="#808080"/><text class="xt" x="585.5" y="722">Exem-</text><text class="xt" x="585.5" y="728.5">plaire 1</text></g>
<g id="legend-exemplaire-label"><text class="lg" x="624" y="722">Notice</text><text class="lg" x="624" y="742">Exemplaire</text></g>
<g id="legend-poemes">
<rect class="p pa" x="731.5" y="678.3" width="59" height="11.5" rx="2"/><text class="lt" x="740" y="686.3">Poème a</text>
<rect class="p pb" x="731.5" y="692.3" width="59" height="11.5" rx="2"/><text class="lt" x="740" y="700.3">Poème b</text>
<rect class="p pc" x="731.5" y="706" width="59" height="11.5" rx="2"/><text class="lt" x="740" y="714">Poème c</text>
<rect class="p pd" x="731.5" y="720" width="59" height="11.5" rx="2"/><text class="lt" x="740" y="728">Poème d</text>
<rect class="p pe" x="731.5" y="734" width="59" height="11.5" rx="2"/><text class="lt" x="740" y="742">Poème e</text>
</g>
<g id="legend-poemes-label"><text class="lg" x="817" y="723">Notices</text><text class="lg" x="817" y="743">Poème</text></g>
<g id="legend-hp" transform="translate(902.3,713.3)"><path class="hpbox" d="M0,0H130L136,6V33H0Z"/><text class="hpt" x="7" y="21">HP</text><ellipse class="cy" cx="83" cy="16" rx="6.3" ry="7.7"/><ellipse class="gr" cx="102.7" cy="16" rx="6.3" ry="7.7"/><ellipse class="rd" cx="120" cy="16" rx="6.3" ry="7.7"/></g>
<g id="legend-hp-label"><text class="lg" x="1055" y="717">Notice</text><text class="lg" x="1055" y="737">Hyperpoème</text></g>
</svg>
